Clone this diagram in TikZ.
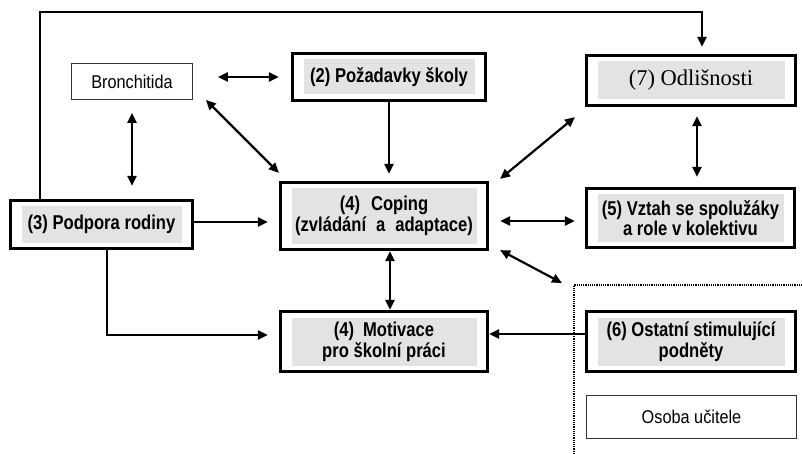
\documentclass[tikz,border=0pt]{standalone}
\usepackage{fontspec}
\setmainfont{Liberation Sans}
\newfontfamily\narrowfont{Liberation Sans}[FakeStretch=0.83]
\newfontfamily\plainfont{Liberation Sans}[FakeStretch=0.88]
\newfontfamily\seriffont{Liberation Serif}
\usetikzlibrary{arrows.meta,calc}
\definecolor{boxgrey}{HTML}{E3E3E3}
\begin{document}
\begin{tikzpicture}[x=1pt,y=-1pt,
  factor/.style={draw, line width=3.2pt, inner sep=0pt, align=center,
    font=\narrowfont\bfseries\fontsize{20}{20.7}\selectfont,
    path picture={\fill[boxgrey]
      ($(path picture bounding box.north west)+(11,6)$) rectangle
      ($(path picture bounding box.south east)+(-11,-6)$);}},
  plainbox/.style={draw=black!80, line width=0.8pt, inner sep=0pt,
    font=\plainfont\fontsize{18.5}{20}\selectfont},
  arr/.style={line width=2.2pt, -{Triangle[length=10pt,width=9pt]}},
  biarr/.style={line width=2.2pt, {Triangle[length=10pt,width=9pt]}-{Triangle[length=10pt,width=9pt]}},
]
\useasboundingbox (0,0) rectangle (802,454);

% factor boxes
\node[plainbox, minimum width=121pt, minimum height=36pt] (bron) at (132,81.5) {Bronchitida};
\node[factor, minimum width=193pt, minimum height=47pt] (poz) at (389,77) {(2) Požadavky školy};
\node[factor, minimum width=209pt, minimum height=50pt,
  font=\seriffont\fontsize{22.5}{24}\selectfont] (odl) at (691,80.5) {(7) Odlišnosti};
\node[factor, minimum width=182pt, minimum height=48pt] (pod) at (101.5,224.5) {(3) Podpora rodiny};
\node[factor, minimum width=207pt, minimum height=67pt] (cop) at (384,216)
  {(4)\hspace{0.55em}Coping\\(zvládání\hspace{0.5em}a\hspace{0.5em}adaptace)};
\node[factor, minimum width=208pt, minimum height=59pt] (vzt) at (690.5,218)
  {(5) Vztah se spolužáky\\a role v kolektivu};
\node[factor, minimum width=207pt, minimum height=60pt] (mot) at (384,341.5)
  {(4)\hspace{0.45em}Motivace\\pro školní práci};
\node[factor, minimum width=209pt, minimum height=60pt] (ost) at (691,341.5)
  {(6) Ostatní stimulující\\podněty};
\node[plainbox, minimum width=210pt, minimum height=43pt] (uci) at (691.5,417) {Osoba učitele};

% dotted zone of outside stimuli
\coordinate (zone) at (574,285);
\draw[line width=1.2pt, densely dotted] (574,454) -- (zone) -- (802,285);

% connectors
\draw[biarr] ($(bron.east)+(25,-4.5)$) -- ($(poz.west)+(-12,0)$);
\draw[biarr] ($(bron.south east)+(13,0)$) -- ($(cop.north west)+(0,-8)$);
\draw[biarr] ($(bron.south)+(0,13)$) -- ($(pod.north)+(30.5,-13)$);
\draw[arr] (poz.south) -- ($(poz.south |- cop.north)+(0,-7)$);
\draw[arr] ($(pod.east)+(0,-2.5)$) -- ($(cop.west)+(-11,6)$);
\draw[biarr] ($(cop.north east)+(11,-2)$) -- ($(odl.south west)+(-10,10)$);
\draw[biarr] ($(cop.east)+(11,5)$) -- ($(vzt.west)+(-10,3)$);
\draw[biarr] ($(cop.south east)+(11,-1)$) -- ($(zone)+(-12,-2)$);
\draw[biarr] ($(odl.south)+(6,9)$) -- ($(vzt.north)+(6.5,-10)$);
\draw[biarr] ($(cop.south)+(6,0)$) -- ($(mot.north)+(6,0)$);
\draw[arr] ($(ost.west)+(0,-7.5)$) -- ($(mot.east)+(0,-7.5)$);
\draw[arr] ($(pod.south)+(5.5,0)$) |- ($(mot.west)+(-11,-6.5)$);
\draw[arr] ($(pod.north west)+(31,0)$) -- ++(0,-187) -| ($(odl.north)+(11,-7)$);
\end{tikzpicture}
\end{document}
